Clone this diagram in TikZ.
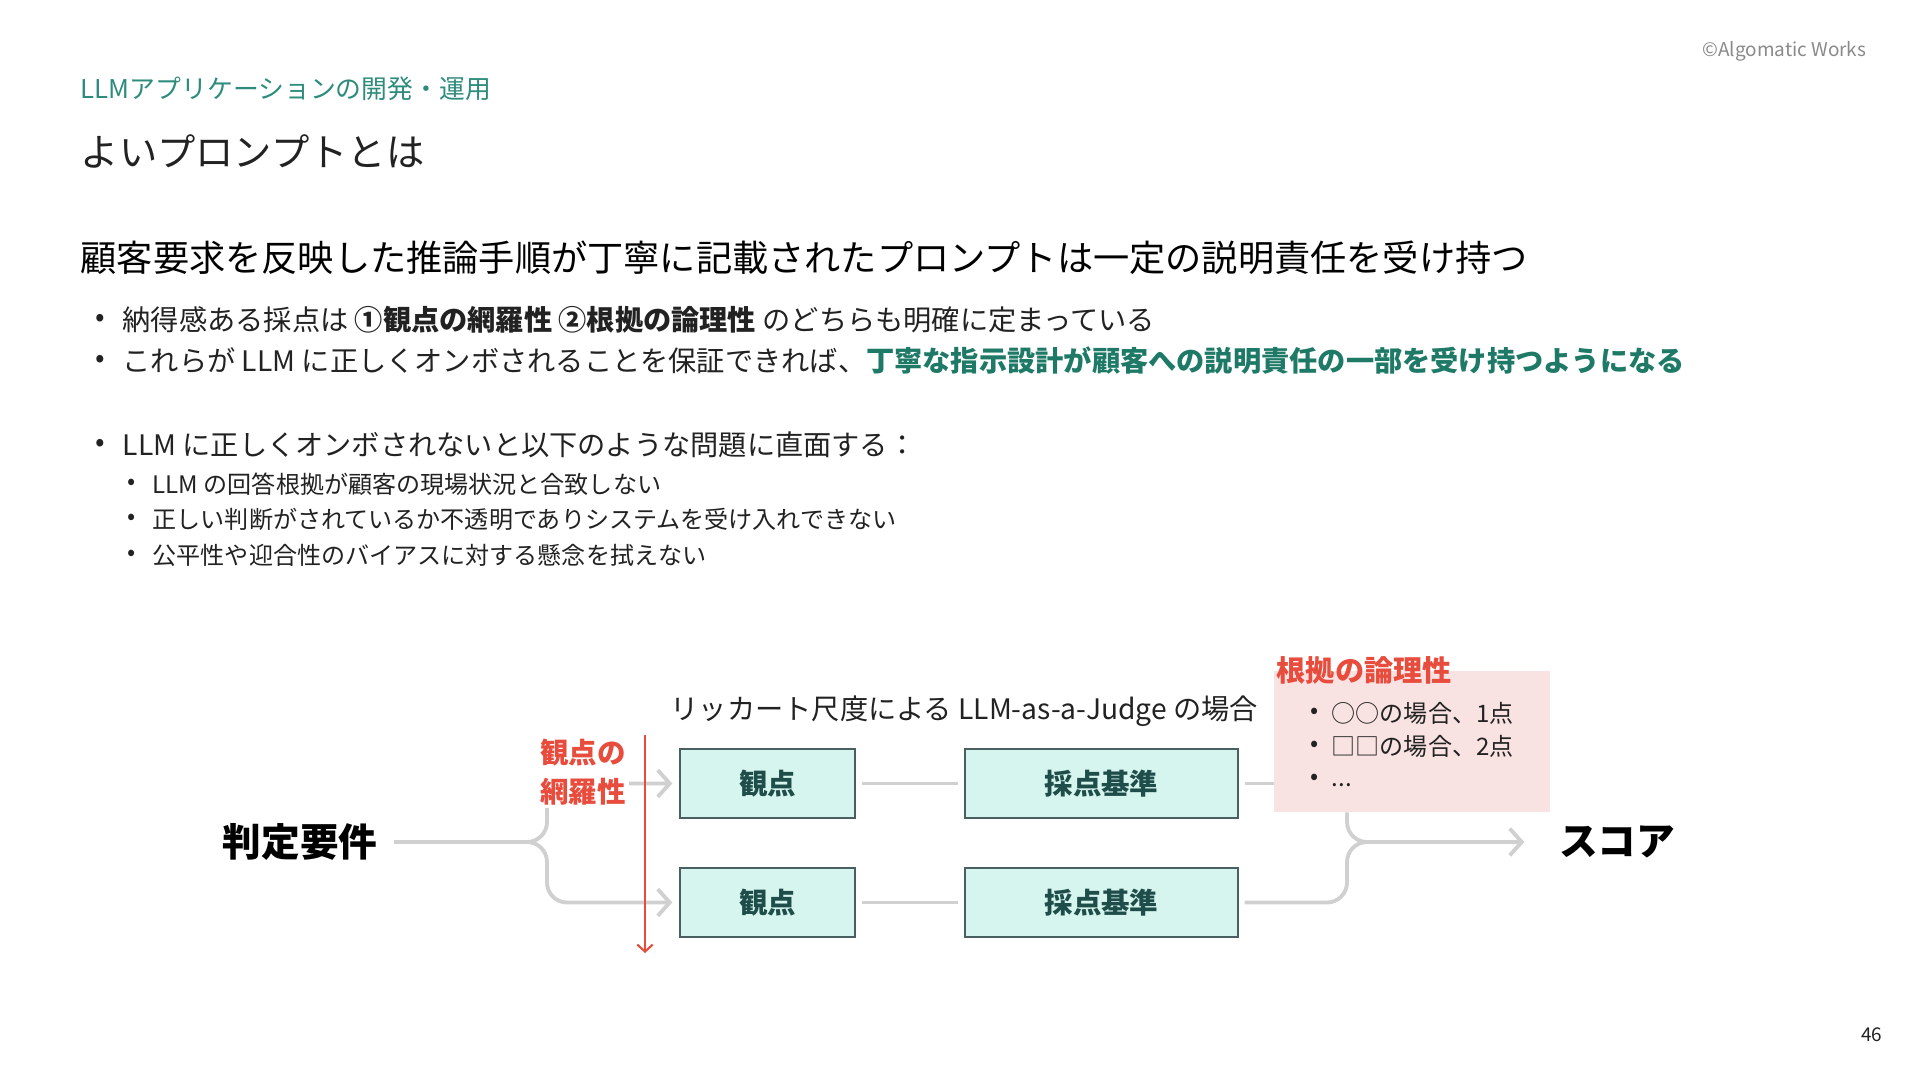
\documentclass[tikz,border=0pt]{standalone}
\usepackage{fontspec}
\setmainfont{Noto Sans CJK JP}
\usetikzlibrary{arrows.meta}
\usetikzlibrary{positioning}

\definecolor{secteal}{HTML}{2E8C7C}
\definecolor{keyteal}{HTML}{1E7A66}
\definecolor{ink}{HTML}{222222}
\definecolor{softgray}{HTML}{8A8A8A}
\definecolor{linegray}{HTML}{D0D0D0}
\definecolor{alertred}{HTML}{E84C3D}
\definecolor{mintfill}{HTML}{D6F5EF}
\definecolor{mintedge}{HTML}{4A5F5F}
\definecolor{mintink}{HTML}{1F4D4A}
\definecolor{pinkfill}{HTML}{F9E2E2}

\begin{document}
\begin{tikzpicture}[every node/.style={inner sep=0pt, anchor=west, text=ink},
    section/.style={font=\fontsize{7.35}{8.5}\selectfont, text=secteal},
    headline/.style={font=\fontsize{10.9}{13}\selectfont},
    lead/.style={font=\fontsize{10.3}{12}\selectfont, text=black},
    body/.style={font=\fontsize{8.03}{9.5}\selectfont},
    small/.style={font=\fontsize{6.85}{8}\selectfont},
    tiny/.style={font=\fontsize{5.4}{6.5}\selectfont, text=softgray},
    bigword/.style={anchor=center, font=\fontsize{11}{13}\selectfont\bfseries, text=black},
    boxed/.style={anchor=center, draw=mintedge, line width=0.4pt, fill=mintfill, minimum height=0.69cm,
      text=mintink, font=\fontsize{8.1}{9.5}\selectfont\bfseries},
    redword/.style={font=\fontsize{8.1}{11}\selectfont\bfseries, text=alertred},
    flow/.style={draw=linegray, line width=1.1pt, rounded corners=0.2cm},
    tip/.style={-{Straight Barb[length=3.4pt, width=7.6pt]}}]

  \fill[white] (0,0) rectangle (19.2,-10.8);
  \useasboundingbox (0,0) rectangle (19.2,-10.8);

  % header
  \node[section] (sect) at (0.80,-0.89) {LLMアプリケーションの開発・運用};
  \node[headline] (title) at (0.80,-1.51) {よいプロンプトとは};
  \node[tiny, anchor=east] (credit) at (18.67,-0.51) {©Algomatic Works};
  \node[tiny, anchor=east, text=ink] (page) at (18.83,-10.35) {46};

  \node[lead] (lead) at (0.80,-2.58) {顧客要求を反映した推論手順が丁寧に記載されたプロンプトは一定の説明責任を受け持つ};

  \foreach \y [count=\i] in {3.20,3.61,4.45} {
    \node[body] (dot\i) at (0.95,-\y) {•};
  }
  \node[body] (p1) at (1.22,-3.20) {納得感ある採点は \textbf{①観点の網羅性} \textbf{②根拠の論理性} のどちらも明確に定まっている};
  \node[body] (p2) at (1.22,-3.61) {これらが LLM に正しくオンボされることを保証できれば、\textcolor{keyteal}{\bfseries 丁寧な指示設計が顧客への説明責任の一部を受け持つようになる}};
  \node[body] (p3) at (1.22,-4.45) {LLM に正しくオンボされないと以下のような問題に直面する：};

  \foreach \y [count=\i] in {4.84,5.19,5.55} {
    \node[small] (sdot\i) at (1.27,-\y) {•};
  }
  \node[small] (s1) at (1.52,-4.84) {LLM の回答根拠が顧客の現場状況と合致しない};
  \node[small] (s2) at (1.52,-5.19) {正しい判断がされているか不透明でありシステムを受け入れできない};
  \node[small] (s3) at (1.52,-5.55) {公平性や迎合性のバイアスに対する懸念を拭えない};

  % diagram
  \node[bigword] (req) at (3.00,-8.42) {判定要件};
  \node[bigword] (score) at (16.17,-8.42) {スコア};

  \node[boxed, minimum width=1.75cm] (v1) at (7.675,-7.835) {観点};
  \node[boxed, minimum width=1.75cm] (v2) at (7.675,-9.025) {観点};
  \node[boxed, minimum width=2.73cm] (c1) at (11.015,-7.835) {採点基準};
  \node[boxed, minimum width=2.73cm] (c2) at (11.015,-9.025) {採点基準};

  \node[body] (cap) at (6.70,-7.11) {リッカート尺度による LLM-as-a-Judge の場合};

  \draw[flow, tip] ([xshift=0.16cm]req.east) -| (5.47,-7.835) -- ([xshift=-0.07cm]v1.west);
  \draw[flow, tip] ([xshift=0.16cm]req.east) -| (5.47,-9.025) -- ([xshift=-0.07cm]v2.west);
  \draw[flow] ([xshift=0.06cm]v1.east) -- ([xshift=-0.06cm]c1.west);
  \draw[flow] ([xshift=0.06cm]v2.east) -- ([xshift=-0.06cm]c2.west);

  \node[redword, anchor=east, align=right, fill=white, inner sep=1pt] (cover) at (6.30,-7.72) {観点の\\網羅性};
  \coordinate (rtop) at (6.45,-7.35);
  \coordinate (rbot) at (6.45,-9.53);
  \draw[alertred, line width=0.6pt, -{Straight Barb[length=2pt, width=4.4pt]}] (rtop) -- (rbot);

  \draw[flow] ([xshift=0.06cm]c1.east) -- (13.0,-7.835);
  \node[fill=pinkfill, minimum width=2.76cm, minimum height=1.41cm, anchor=north west] (rbox) at (12.73,-6.70) {};
  \node[redword, font=\fontsize{8.3}{10}\selectfont\bfseries] (rtitle) at (12.76,-6.70) {根拠の論理性};
  \foreach \y [count=\i] in {7.13,7.46,7.79} {
    \node[small] (rdot\i) at (13.10,-\y) {•};
  }
  \node[small] (r1) at (13.31,-7.13) {○○の場合、1点};
  \node[small] (r2) at (13.31,-7.46) {□□の場合、2点};
  \node[small, anchor=base west] (r3) at (13.31,-7.86) {...};

  \draw[flow, tip] ([xshift=0.74cm]rbox.south west) |- ([xshift=-0.34cm]score.west);
  \draw[flow] ([xshift=0.06cm]c2.east) -| (13.47,-8.42) -- (14.2,-8.42);
\end{tikzpicture}
\end{document}
